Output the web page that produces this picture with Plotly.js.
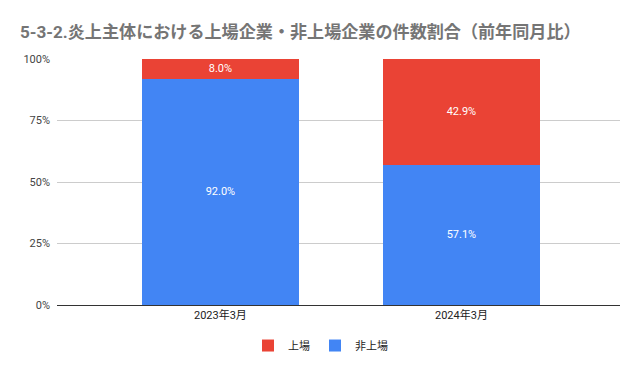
<!DOCTYPE html>
<html><head><meta charset="utf-8">
<script src="https://cdn.plot.ly/plotly-3.0.1.min.js"></script>
<style>body{margin:0;padding:0;background:#fff}#c{width:643px;height:371px}</style>
</head><body><div id="c"></div>
<script>
const categories = ['2023年3月', '2024年3月'];
const listed = [8.0, 42.9];
const unlisted = [92.0, 57.1];
const seriesNames = ['上場', '非上場'];

const font = '"Roboto", "Noto Sans CJK JP", sans-serif';
const common = {type:'bar', x:categories, width:0.651, textposition:'inside', insidetextanchor:'middle',
  textfont:{color:'#ffffff', size:11, family:font}, hoverinfo:'skip', cliponaxis:false};
const traces = [
  Object.assign({}, common, {name:seriesNames[1], y:unlisted, text:unlisted.map(v=>v.toFixed(1)+'%'), marker:{color:'#4285f4'}, legendrank:2}),
  Object.assign({}, common, {name:seriesNames[0], y:listed, text:listed.map(v=>v.toFixed(1)+'%'), marker:{color:'#ea4335'}, legendrank:1})
];
const layout = {
  width:643, height:371, barmode:'stack',
  margin:{l:57, r:23, t:59, b:65},
  paper_bgcolor:'#fff', plot_bgcolor:'#fff',
  font:{family:font, color:'#222'},
  title:{text:'5-3-2.炎上主体における上場企業・非上場企業の件数割合（前年同月比）', x:0.031, xanchor:'left', y:0.915, yanchor:'middle',
    font:{family:font, size:17.1, color:'#757575', weight:'bold'}},
  xaxis:{range:[-0.678, 1.658], showgrid:false, zeroline:false, showline:true, linecolor:'#333', linewidth:1,
    ticks:'', tickfont:{size:11, color:'#222'}, fixedrange:true},
  yaxis:{range:[0,100], tickvals:[0,25,50,75,100], ticktext:['0%','25%','50%','75%','100%'], gridcolor:'#cccccc',
    zeroline:false, showline:false, ticks:'', tickfont:{size:11, color:'#444'}, ticklabelstandoff:6, fixedrange:true},
  showlegend:true,
  legend:{orientation:'h', x:0.468, xanchor:'center', y:-0.16, yanchor:'middle', traceorder:'normal',
    font:{size:11, color:'#222'}, itemwidth:30},
  bargap:0
};
Plotly.newPlot('c', traces, layout, {displayModeBar:false, staticPlot:true});
</script></body></html>
